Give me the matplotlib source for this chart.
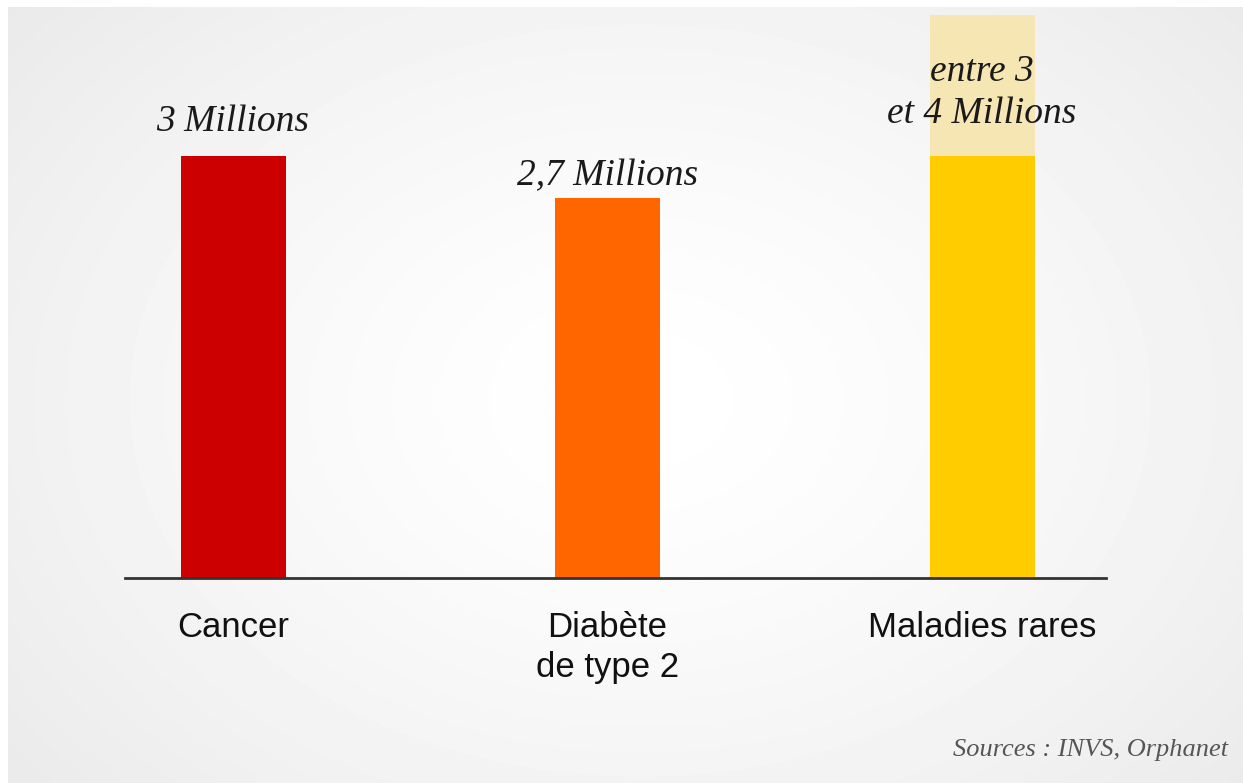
import numpy as np
import matplotlib.pyplot as plt

# données (millions de personnes)
categories = ["Cancer", "Diabète\nde type 2", "Maladies rares"]
valeurs = [3.0, 2.7, 3.0]          # partie pleine des barres
valeurs_max = [None, None, 4.0]     # fourchette haute (maladies rares)
etiquettes = ["3 Millions", "2,7 Millions", "entre 3\net 4 Millions"]
couleurs = ["#CC0000", "#FF6600", "#FFCC00"]
couleur_fourchette = "#F6E6B4"
source = "Sources : INVS, Orphanet"

W, H = 1243, 783
fig = plt.figure(figsize=(W / 100, H / 100), dpi=100)

# fond en dégradé radial, bande blanche en haut et à gauche
bg = fig.add_axes([0, 0, 1, 1])
yy, xx = np.mgrid[0:H, 0:W]
r = np.sqrt(((xx - 640) / 760) ** 2 + ((yy - 400) / 560) ** 2)
grey = 1.0 - 0.075 * np.clip(r, 0, 1.2) ** 1.4
grey[:7, :] = 1.0
grey[:, :8] = 1.0
bg.imshow(grey, cmap="gray", vmin=0, vmax=1, aspect="auto",
          extent=(0, W, H, 0), interpolation="bilinear")
bg.axis("off")

# zone du graphique, en pixels : ligne de base à y=578, haut à y=15
left, right = 125, 1106
base, top = 578, 15
ax = fig.add_axes([left / W, 1 - base / H, (right - left) / W, (base - top) / H])
ax.patch.set_alpha(0)

x = np.arange(len(categories))
unit = 374.5
ax.set_xlim(-108 / unit, -108 / unit + (right - left) / unit)
ax.set_ylim(0, 4.0)

largeur = 105 / unit
for xi, v, vm, c in zip(x, valeurs, valeurs_max, couleurs):
    if vm is not None:
        ax.bar(xi, vm - v, bottom=v, width=largeur, color=couleur_fourchette, zorder=1)
    ax.bar(xi, v, width=largeur, color=c, zorder=2)

for s in ["top", "right", "left"]:
    ax.spines[s].set_visible(False)
ax.spines["bottom"].set_color("#333333")
ax.spines["bottom"].set_linewidth(2)
ax.set_yticks([])
ax.set_xticks(x)
ax.set_xticklabels(categories, fontsize=25, family="Liberation Sans",
                   linespacing=1.25, color="#111111", va="top")
ax.tick_params(axis="x", length=0, pad=24)

# étiquettes de valeur au-dessus des barres
txt = dict(family="Liberation Serif", style="italic", fontsize=27,
           color="#1a1a1a", ha="center", va="center")
ax.annotate(etiquettes[0], (x[0], valeurs[0]), xytext=(0, 24.5),
            textcoords="offset points", **txt)
ax.annotate(etiquettes[1], (x[1], valeurs[1]), xytext=(0, 16),
            textcoords="offset points", **txt)
ax.annotate(etiquettes[2], (x[2], valeurs_max[2]), xytext=(0, -56),
            textcoords="offset points", linespacing=1.3, **txt)

fig.text(1228 / W, 1 - 750 / H, source, ha="right", va="center",
         family="Liberation Serif", style="italic", fontsize=19, color="#555555")

fig.savefig("out.png", dpi=100)
